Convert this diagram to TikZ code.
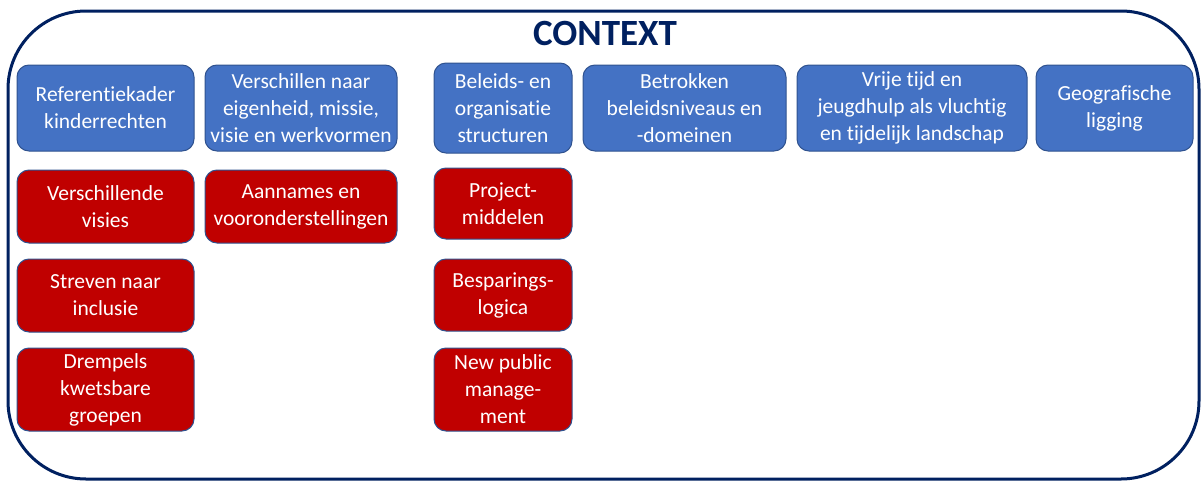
\documentclass[tikz,border=0pt]{standalone}
\usepackage{fontspec}
\setmainfont{Carlito}[Ligatures=NoCommon]
\usetikzlibrary{positioning}
\definecolor{boxblue}{HTML}{4472C4}
\definecolor{boxred}{HTML}{C00000}
\definecolor{edgeblue}{HTML}{2F528F}
\definecolor{navy}{HTML}{002060}

\tikzset{
  factorbox/.style={draw=edgeblue, line width=1pt, rounded corners=12pt, text=white,
    align=center, inner xsep=0pt, inner ysep=2pt, font=\fontsize{21.5}{27}\selectfont},
  ctxbox/.style={factorbox, fill=boxblue, minimum height=86pt},
  tensionbox/.style={factorbox, fill=boxred, minimum height=73pt},
}

\begin{document}
\begin{tikzpicture}[x=1pt, y=-1pt]
    \useasboundingbox (0,0) rectangle (1203,485);
    \draw[navy, line width=3pt, rounded corners=78pt] (8,11) rectangle (1199,479);
    \node[font=\fontsize{37}{42}\selectfont\bfseries, text=navy] (title) at (605,33) {CONTEXT};

    % context factors
    \node[ctxbox, minimum width=177pt] (kader) at (105.5,108) {Referentiekader\\kinderrechten};
    \node[ctxbox, minimum width=192pt, right=10pt of kader] (eigenheid) {Verschillen naar\\eigenheid, missie,\\visie en werkvormen};
    \node[ctxbox, minimum width=138pt, minimum height=90pt, right=36pt of eigenheid] (structuren) {Beleids- en\\organisatie\\structuren};
    \node[ctxbox, minimum width=203pt, right=10pt of structuren] (niveaus) {Betrokken\\beleidsniveaus en\\-domeinen};
    \node[ctxbox, minimum width=230pt, right=10pt of niveaus] (landschap) {Vrije tijd en\\jeugdhulp als vluchtig\\en tijdelijk landschap};
    \node[ctxbox, minimum width=157pt, right=8pt of landschap] (ligging) {Geografische\\ligging};

    % tensions under the factors
    \node[tensionbox, minimum width=177pt, below=18pt of kader] (visies) {Verschillende\\visies};
    \node[tensionbox, minimum width=177pt, below=15pt of visies] (inclusie) {Streven naar\\inclusie};
    \node[tensionbox, minimum width=177pt, minimum height=83pt, below=15pt of inclusie] (drempels) {Drempels\\kwetsbare\\groepen};
    \node[tensionbox, minimum width=192pt, below=18pt of eigenheid] (aannames) {Aannames en\\vooronderstellingen};
    \node[tensionbox, minimum width=138pt, minimum height=71pt, below=14pt of structuren] (middelen) {Project-\\middelen};
    \node[tensionbox, minimum width=138pt, minimum height=72pt, below=19pt of middelen] (logica) {Besparings-\\logica};
    \node[tensionbox, minimum width=138pt, minimum height=83pt, below=16pt of logica] (management) {New public\\manage-\\ment};
\end{tikzpicture}
\end{document}
